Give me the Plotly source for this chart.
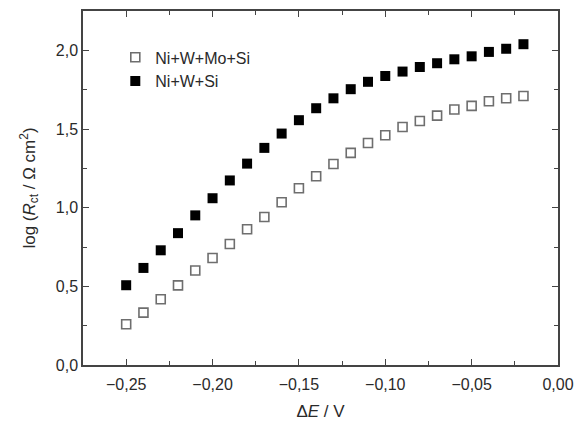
import plotly.graph_objects as go

x_vals = [-0.25, -0.24, -0.23, -0.22, -0.21, -0.20, -0.19, -0.18, -0.17, -0.16, -0.15, -0.14,
          -0.13, -0.12, -0.11, -0.10, -0.09, -0.08, -0.07, -0.06, -0.05, -0.04, -0.03, -0.02]
ni_w_mo_si = [0.259, 0.333, 0.418, 0.506, 0.601, 0.680, 0.769, 0.863, 0.941, 1.034, 1.123, 1.200,
              1.278, 1.348, 1.411, 1.460, 1.513, 1.551, 1.585, 1.624, 1.647, 1.676, 1.695, 1.710]
ni_w_si = [0.507, 0.617, 0.729, 0.838, 0.951, 1.060, 1.173, 1.280, 1.380, 1.471, 1.556, 1.632,
           1.695, 1.753, 1.800, 1.837, 1.865, 1.894, 1.918, 1.943, 1.962, 1.990, 2.010, 2.039]
names = ["Ni+W+Mo+Si", "Ni+W+Si"]

fig = go.Figure()
fig.add_trace(go.Scatter(
    x=x_vals, y=ni_w_mo_si, mode="markers", name=names[0],
    marker=dict(symbol="square-open", size=9, color="#6e6e6e", line=dict(width=1.6, color="#6e6e6e")),
))
fig.add_trace(go.Scatter(
    x=x_vals, y=ni_w_si, mode="markers", name=names[1],
    marker=dict(symbol="square", size=10, color="#000000", line=dict(width=0)),
))

axis_common = dict(
    showline=True, linecolor="#444444", linewidth=1.5, mirror="ticks",
    ticks="inside", ticklen=6, tickwidth=1.2, tickcolor="#444444",
    showgrid=False, zeroline=False, automargin=False,
    tickfont=dict(family="Liberation Sans, Arial", size=16, color="#2a2a2a"),
)

fig.update_layout(
    width=585, height=421,
    margin=dict(l=83, r=27, t=11, b=56),
    paper_bgcolor="white", plot_bgcolor="white",
    separators=",.",
    font=dict(family="Liberation Sans, Arial", color="#2a2a2a"),
    showlegend=True,
    legend=dict(x=0.068, y=0.917, xanchor="left", yanchor="top",
                bgcolor="rgba(0,0,0,0)", font=dict(size=16, color="#2a2a2a"),
                itemwidth=30, tracegroupgap=0),
    xaxis=dict(range=[-0.275, 0.0], tickvals=[-0.25, -0.20, -0.15, -0.10, -0.05, 0.0],
               tickformat=".2f", ticklabelstandoff=4,
               minor=dict(tickvals=[-0.275, -0.225, -0.175, -0.125, -0.075, -0.025],
                          ticks="inside", ticklen=4, tickcolor="#444444"),
               title=dict(text="Δ<i>E</i> / V", font=dict(size=17, color="#2a2a2a"), standoff=15),
               **axis_common),
    yaxis=dict(range=[0, 2.25], tickvals=[0, 0.5, 1.0, 1.5, 2.0], tickformat=".1f",
               minor=dict(tickvals=[0.25, 0.75, 1.25, 1.75, 2.25],
                          ticks="inside", ticklen=4, tickcolor="#444444"),
               title=dict(text="log (<i>R</i><sub>ct</sub> / Ω cm<sup>2</sup>)",
                          font=dict(size=17, color="#2a2a2a"), standoff=16),
               **axis_common),
)

fig.write_html("out.html")
